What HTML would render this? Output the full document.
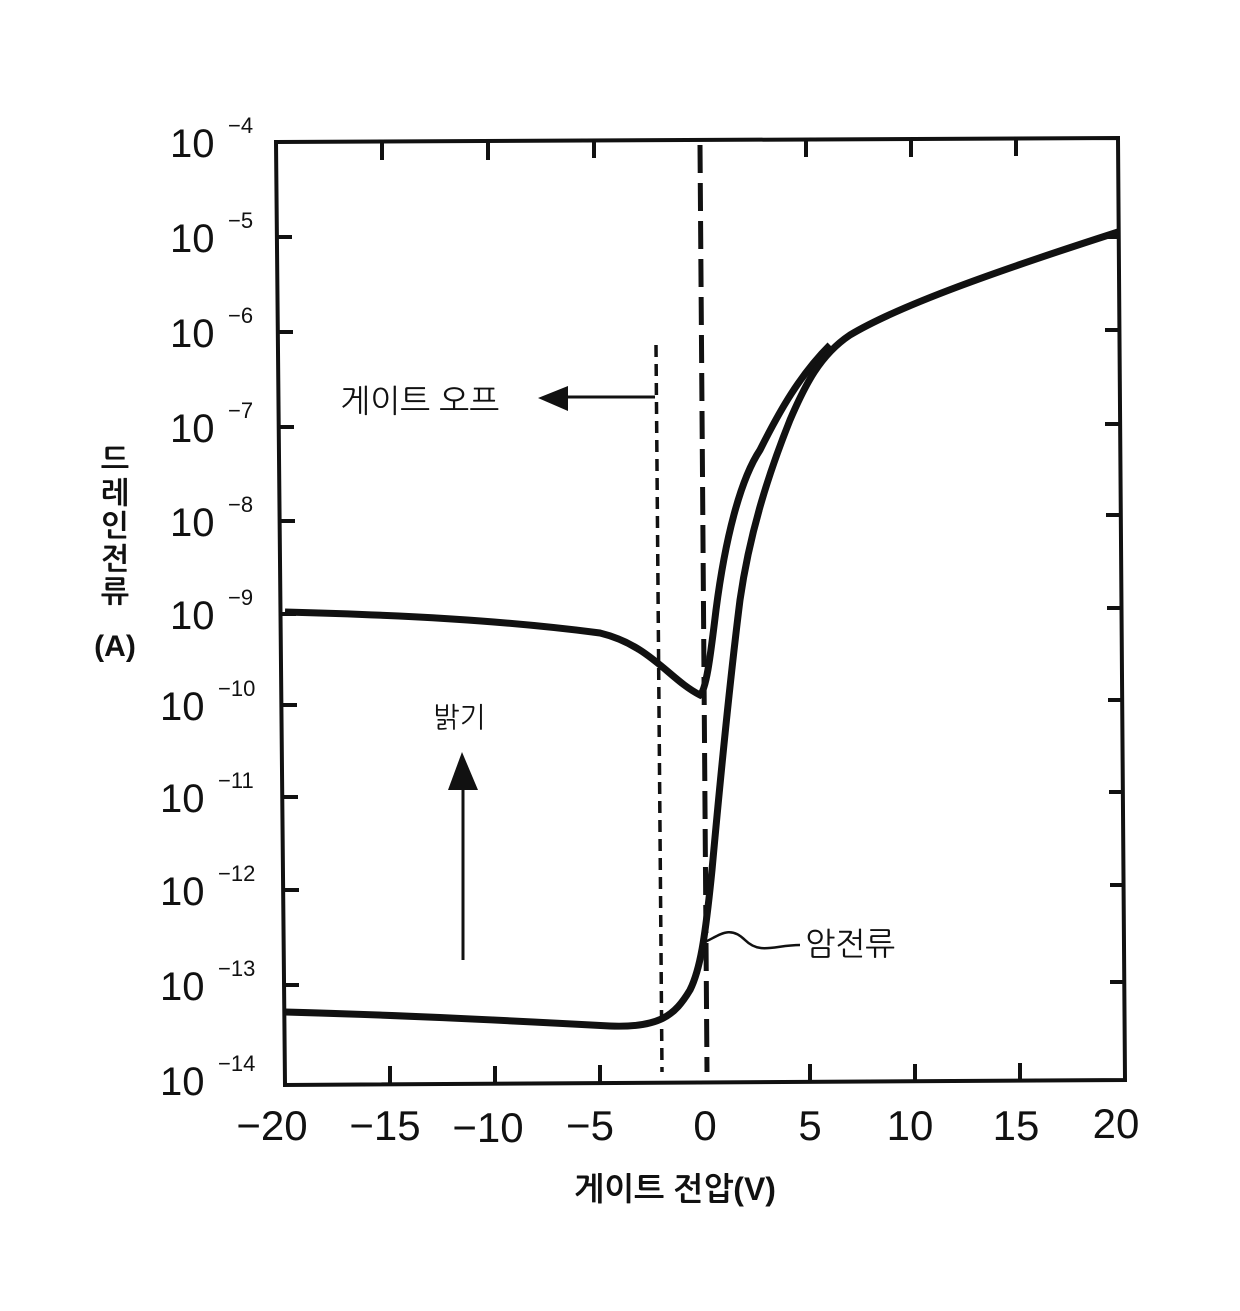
<!DOCTYPE html>
<html><head><meta charset="utf-8"><style>
body{margin:0;background:#fff}
svg text{font-family:"Liberation Sans","NanumGothic","Noto Sans CJK KR",sans-serif;fill:#111}
</style></head><body>
<svg width="1240" height="1306" viewBox="0 0 1240 1306" xmlns="http://www.w3.org/2000/svg">
<polygon points="276,142 1118,138 1125,1080 285,1085" fill="none" stroke="#111" stroke-width="4"/>
<g stroke="#111" stroke-width="4">
<line x1="277" y1="237" x2="292" y2="237"/><line x1="278" y1="332" x2="293" y2="332"/>
<line x1="279" y1="427" x2="294" y2="427"/><line x1="280" y1="521" x2="295" y2="521"/>
<line x1="281" y1="614" x2="296" y2="614"/><line x1="282" y1="705" x2="297" y2="705"/>
<line x1="283" y1="797" x2="298" y2="797"/><line x1="284" y1="890" x2="299" y2="890"/>
<line x1="284" y1="985" x2="299" y2="985"/>
<line x1="1104" y1="237" x2="1119" y2="237"/><line x1="1105" y1="330" x2="1120" y2="330"/>
<line x1="1105" y1="424" x2="1120" y2="424"/><line x1="1106" y1="515" x2="1121" y2="515"/>
<line x1="1107" y1="608" x2="1122" y2="608"/><line x1="1108" y1="700" x2="1123" y2="700"/>
<line x1="1109" y1="792" x2="1124" y2="792"/><line x1="1110" y1="885" x2="1125" y2="885"/>
<line x1="1110" y1="982" x2="1125" y2="982"/>
<line x1="382" y1="142" x2="382" y2="160"/><line x1="488" y1="142" x2="488" y2="160"/>
<line x1="594" y1="140" x2="594" y2="158"/><line x1="806" y1="139" x2="806" y2="157"/>
<line x1="911" y1="139" x2="911" y2="157"/><line x1="1016" y1="138" x2="1016" y2="156"/>
<line x1="390" y1="1084" x2="390" y2="1066"/><line x1="495" y1="1084" x2="495" y2="1066"/>
<line x1="600" y1="1083" x2="600" y2="1065"/><line x1="810" y1="1082" x2="810" y2="1064"/>
<line x1="915" y1="1082" x2="915" y2="1064"/><line x1="1020" y1="1081" x2="1020" y2="1063"/>
</g>
<line x1="700" y1="145" x2="707" y2="1072" stroke="#111" stroke-width="5" stroke-dasharray="28,10"/>
<line x1="656" y1="345" x2="662" y2="1072" stroke="#111" stroke-width="3.5" stroke-dasharray="12,7"/>
<path d="M285,612 C400,615 500,620 600,633 C650,645 670,680 700,695 C706,690 710,660 716,610 C725,540 740,480 760,450 C780,410 800,375 830,345" fill="none" stroke="#111" stroke-width="7"/>
<path d="M285,1012 C400,1015 500,1020 610,1026 C660,1028 675,1015 690,990 C700,970 705,940 712,870 C722,760 730,680 740,600 C750,530 770,470 790,420 C805,385 820,355 850,335 C900,305 1000,270 1118,232" fill="none" stroke="#111" stroke-width="7"/>
<line x1="655" y1="397" x2="560" y2="397" stroke="#111" stroke-width="3"/>
<polygon points="538,398 568,386 568,411" fill="#111"/>
<text x="340" y="412" font-size="32">게이트 오프</text>
<line x1="463" y1="960" x2="463" y2="780" stroke="#111" stroke-width="3"/>
<polygon points="462,752 448,790 478,790" fill="#111"/>
<text x="433" y="727" font-size="28">밝기</text>
<path d="M705,942 C720,935 730,925 745,940 C760,955 775,945 800,945" fill="none" stroke="#111" stroke-width="2.5"/>
<text x="805" y="955" font-size="32">암전류</text>
<g font-size="40">
<text x="170" y="157">10</text><text x="228" y="133" font-size="22">−4</text>
<text x="170" y="252">10</text><text x="228" y="228" font-size="22">−5</text>
<text x="170" y="347">10</text><text x="228" y="323" font-size="22">−6</text>
<text x="170" y="442">10</text><text x="228" y="418" font-size="22">−7</text>
<text x="170" y="536">10</text><text x="228" y="512" font-size="22">−8</text>
<text x="170" y="629">10</text><text x="228" y="605" font-size="22">−9</text>
<text x="160" y="720">10</text><text x="218" y="696" font-size="22">−10</text>
<text x="160" y="812">10</text><text x="218" y="788" font-size="22">−11</text>
<text x="160" y="905">10</text><text x="218" y="881" font-size="22">−12</text>
<text x="160" y="1000">10</text><text x="218" y="976" font-size="22">−13</text>
<text x="160" y="1095">10</text><text x="218" y="1071" font-size="22">−14</text>
</g>
<g font-size="42" text-anchor="middle">
<text x="272" y="1140">−20</text><text x="385" y="1140">−15</text><text x="488" y="1142">−10</text>
<text x="590" y="1140">−5</text><text x="705" y="1140">0</text><text x="810" y="1140">5</text>
<text x="910" y="1140">10</text><text x="1016" y="1140">15</text><text x="1116" y="1138">20</text>
</g>
<text x="675" y="1200" font-size="32" text-anchor="middle" font-weight="bold">게이트 전압(V)</text>
<g font-size="30" text-anchor="middle" font-weight="bold">
<text x="115" y="470">드</text><text x="115" y="503">레</text><text x="115" y="536">인</text>
<text x="115" y="569">전</text><text x="115" y="602">류</text><text x="115" y="656">(A)</text>
</g>
</svg>
</body></html>
